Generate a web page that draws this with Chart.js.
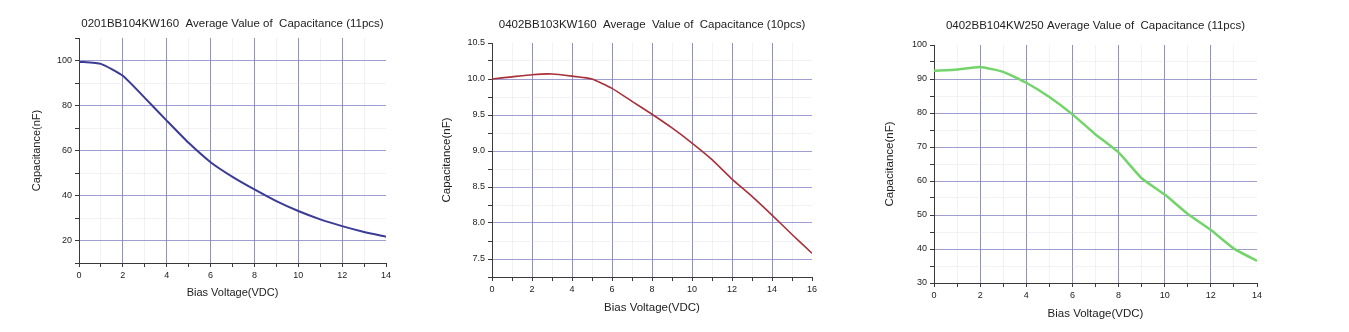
<!DOCTYPE html>
<html>
<head>
<meta charset="utf-8">
<title>Average Value of Capacitance</title>
<script src="https://cdn.jsdelivr.net/npm/chart.js@4"></script>
<style>
  html, body { margin: 0; padding: 0; background: #fff; }
  body { width: 1349px; height: 332px; position: relative; overflow: hidden; }
  .box { position: absolute; top: 0; height: 332px; }
</style>
</head>
<body>
<div class="box" style="left:0;width:440px"><canvas id="chart1"></canvas></div>
<div class="box" style="left:440px;width:440px"><canvas id="chart2"></canvas></div>
<div class="box" style="left:880px;width:469px"><canvas id="chart3"></canvas></div>

<script>
// Bias voltage steps (VDC)
const voltsA = [0, 1, 2, 3, 4, 5, 6, 7, 8, 9, 10, 11, 12, 13, 14];
const voltsB = [0, 1, 2, 3, 4, 5, 6, 7, 8, 9, 10, 11, 12, 13, 14, 15, 16];

// Capacitance (nF)
const cap0201_104 = [99.5, 98.5, 93.2, 83.4, 73.3, 63.4, 54.8, 48.3, 42.7, 37.5, 33.1, 29.4, 26.4, 23.8, 21.7];
const cap0402_103 = [10.0, 10.03, 10.06, 10.07, 10.04, 10.0, 9.87, 9.69, 9.51, 9.32, 9.11, 8.88, 8.61, 8.37, 8.11, 7.84, 7.58];
const cap0402_104 = [92.4, 92.8, 93.5, 92.1, 88.9, 84.7, 79.6, 73.7, 68.4, 60.8, 56.0, 50.3, 45.6, 40.1, 36.5];

const titles = [
  '0201BB104KW160  Average Value of  Capacitance (11pcs)',
  '0402BB103KW160  Average  Value of  Capacitance (10pcs)',
  '0402BB104KW250 Average Value of  Capacitance (11pcs)'
];
const xTitle = 'Bias Voltage(VDC)';
const yTitle = 'Capacitance(nF)';

const FONT = 'Arial, "Liberation Sans", sans-serif';
const AXIS_COLOR = '#3a3a3a';
const MINOR_GRID = 'rgba(210,210,230,0.3)';

function isMultiple(v, step) {
  const r = v / step;
  return Math.abs(r - Math.round(r)) < 1e-6;
}

function makeChart(id, xs, ys, o) {
  const points = xs.map((x, i) => ({ x: x, y: ys[i] }));
  return new Chart(document.getElementById(id), {
    type: 'line',
    data: {
      datasets: [{
        data: points,
        borderColor: o.color,
        borderWidth: o.lineWidth,
        pointRadius: 0,
        tension: 0.15,
        fill: false
      }]
    },
    options: {
      responsive: true,
      maintainAspectRatio: false,
      animation: false,
      layout: { padding: { left: 0, right: o.padRight, top: 0, bottom: 0 } },
      plugins: {
        legend: { display: false },
        tooltip: { enabled: false },
        title: {
          display: true,
          text: o.title,
          fullSize: false,
          color: '#222',
          font: { family: FONT, size: 11.5, weight: 'normal', lineHeight: 1.2 },
          padding: o.titlePad
        }
      },
      scales: {
        x: {
          type: 'linear',
          min: o.xMin, max: o.xMax,
          afterFit: s => { s.height = o.xHeight; },
          border: { display: true, color: AXIS_COLOR, width: 1 },
          grid: {
            color: c => {
              const v = c.tick ? c.tick.value : 0;
              if (v === o.xMax) return 'rgba(0,0,0,0)';
              return isMultiple(v, o.xMajor) ? 'rgba(110,110,155,0.75)' : MINOR_GRID;
            },
            tickColor: AXIS_COLOR,
            tickLength: 4,
            drawTicks: true
          },
          ticks: {
            stepSize: 1,
            autoSkip: false,
            maxRotation: 0,
            padding: 3,
            color: '#222',
            font: { family: FONT, size: 9 },
            callback: v => isMultiple(v, o.xMajor) ? String(v) : ''
          },
          title: {
            display: true,
            text: xTitle,
            color: '#222',
            font: { family: FONT, size: o.axisFont, lineHeight: 1.2 },
            padding: { top: 0, bottom: o.xTitlePad }
          }
        },
        y: {
          type: 'linear',
          min: o.yMin, max: o.yMax,
          afterFit: s => { s.width = o.yWidth; },
          border: { display: true, color: AXIS_COLOR, width: 1 },
          grid: {
            color: c => {
              const v = c.tick ? c.tick.value : 0;
              if (Math.abs(v - o.yMax) < 1e-6) return 'rgba(0,0,0,0)';
              return isMultiple(v, o.yMajor) ? 'rgba(125,125,195,0.75)' : MINOR_GRID;
            },
            tickColor: AXIS_COLOR,
            tickLength: 4,
            drawTicks: true
          },
          ticks: {
            stepSize: o.yMinor,
            autoSkip: false,
            padding: 3,
            color: '#222',
            font: { family: FONT, size: 9 },
            callback: v => {
              if (!isMultiple(v, o.yMajor)) return '';
              if (o.yLabels && !o.yLabels.includes(Math.round(v * 100) / 100)) return '';
              return o.yDecimals ? v.toFixed(o.yDecimals) : String(Math.round(v));
            }
          },
          title: {
            display: true,
            text: yTitle,
            color: '#222',
            font: { family: FONT, size: o.axisFont, lineHeight: 1.2 },
            padding: { top: o.yTitlePad, bottom: 0 }
          }
        }
      }
    }
  });
}

makeChart('chart1', voltsA, cap0201_104, {
  title: titles[0], color: '#3b3b96', lineWidth: 2,
  padRight: 54, yWidth: 79, xHeight: 69,
  titlePad: { top: 17.1, bottom: 7.1 },
  xTitlePad: 32, yTitlePad: 30.4, axisFont: 11,
  xMin: 0, xMax: 14, xMajor: 2,
  yMin: 10, yMax: 110, yMinor: 10, yMajor: 20, yLabels: [20, 40, 60, 80, 100]
});

makeChart('chart2', voltsB, cap0402_103, {
  title: titles[1], color: '#a83038', lineWidth: 1.6,
  padRight: 68, yWidth: 52, xHeight: 55,
  titlePad: { top: 18.1, bottom: 11.1 },
  xTitlePad: 17.1, yTitlePad: 0, axisFont: 11.5,
  xMin: 0, xMax: 16, xMajor: 2,
  yMin: 7.25, yMax: 10.5, yMinor: 0.25, yMajor: 0.5, yDecimals: 1
});

makeChart('chart3', voltsA, cap0402_104, {
  title: titles[2], color: '#72d46a', lineWidth: 2.5,
  padRight: 92, yWidth: 54, xHeight: 49,
  titlePad: { top: 19.1, bottom: 12.1 },
  xTitlePad: 11.1, yTitlePad: 3.1, axisFont: 11.5,
  xMin: 0, xMax: 14, xMajor: 2,
  yMin: 30, yMax: 100, yMinor: 5, yMajor: 10
});
</script>
</body>
</html>
